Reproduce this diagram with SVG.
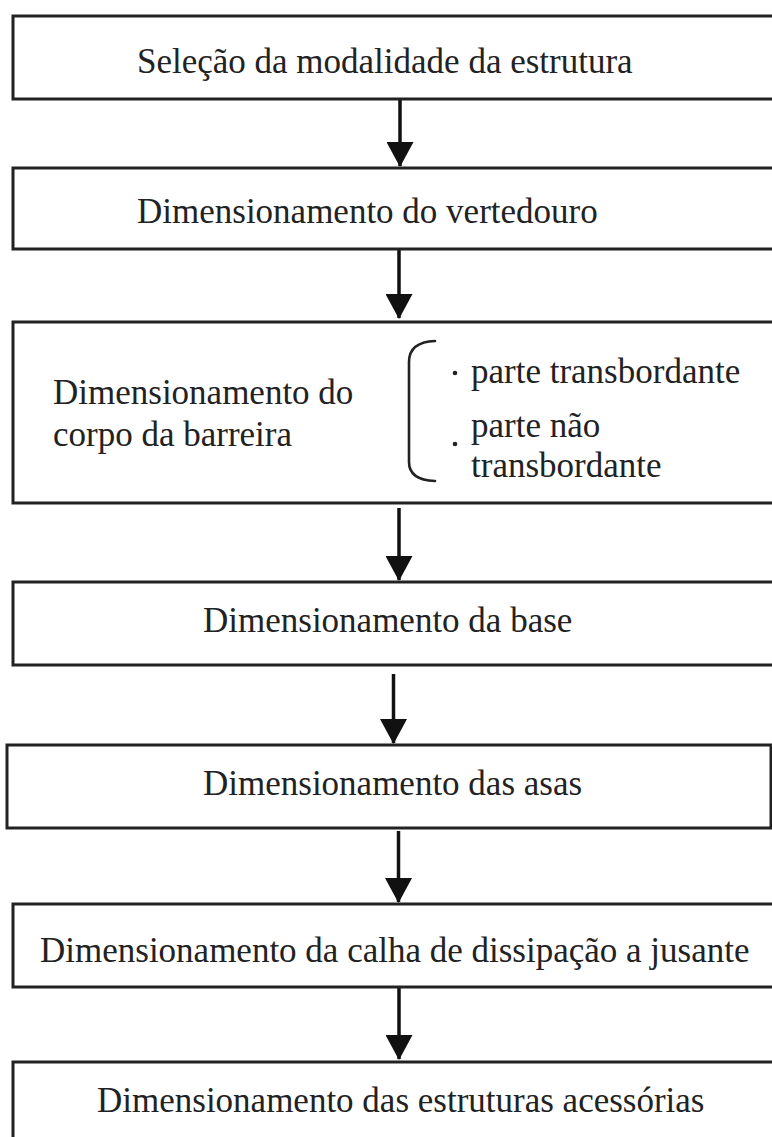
<svg xmlns="http://www.w3.org/2000/svg" width="772" height="1137" viewBox="0 0 772 1137">
  <style>
    .box { fill: #ffffff; stroke: #222222; stroke-width: 3; }
    .lbl { font-family: "Liberation Serif", "Times New Roman", serif; font-size: 35px; fill: #222222; }
    .conn { stroke: #111111; stroke-width: 3.5; fill: none; }
    .brace { stroke: #222222; stroke-width: 2.6; fill: none; stroke-linecap: round; }
    .dot { fill: #222222; }
  </style>
  <defs>
    <marker id="arrow" markerUnits="userSpaceOnUse" markerWidth="25" markerHeight="27" viewBox="0 0 25 27" refX="24" refY="13.5" orient="auto">
      <path d="M0,0 L25,13.5 L0,27 Z" fill="#111111"/>
    </marker>
  </defs>
  <rect width="772" height="1137" fill="#ffffff"/>

  <g id="connectors">
    <line class="conn" x1="400" y1="100" x2="400" y2="166" marker-end="url(#arrow)"/>
    <line class="conn" x1="399" y1="250" x2="399" y2="318" marker-end="url(#arrow)"/>
    <line class="conn" x1="399" y1="508" x2="399" y2="580" marker-end="url(#arrow)"/>
    <line class="conn" x1="393.5" y1="674" x2="393.5" y2="743" marker-end="url(#arrow)"/>
    <line class="conn" x1="398.5" y1="831" x2="398.5" y2="902" marker-end="url(#arrow)"/>
    <line class="conn" x1="399" y1="988" x2="399" y2="1059" marker-end="url(#arrow)"/>
  </g>

  <g id="node1">
    <rect class="box" x="13" y="16" width="775" height="83"/>
    <text class="lbl" x="137" y="73">Seleção da modalidade da estrutura</text>
  </g>
  <g id="node2">
    <rect class="box" x="13" y="168" width="775" height="81"/>
    <text class="lbl" x="137" y="223">Dimensionamento do vertedouro</text>
  </g>
  <g id="node3">
    <rect class="box" x="13" y="322" width="775" height="181"/>
    <text class="lbl" x="53" y="404">Dimensionamento do</text>
    <text class="lbl" x="53" y="446">corpo da barreira</text>
    <path class="brace" d="M435,341 Q409,342 409,362 L409,462 Q409,480 435,481"/>
    <circle class="dot" cx="455" cy="373" r="2.3"/>
    <text class="lbl" x="471" y="383">parte transbordante</text>
    <circle class="dot" cx="455" cy="444" r="2.3"/>
    <text class="lbl" x="471" y="437">parte não</text>
    <text class="lbl" x="471" y="477">transbordante</text>
  </g>
  <g id="node4">
    <rect class="box" x="13" y="582" width="775" height="83"/>
    <text class="lbl" x="203" y="632">Dimensionamento da base</text>
  </g>
  <g id="node5">
    <rect class="box" x="7" y="745" width="764" height="83"/>
    <text class="lbl" x="203" y="795">Dimensionamento das asas</text>
  </g>
  <g id="node6">
    <rect class="box" x="13" y="904" width="775" height="83"/>
    <text class="lbl" x="40" y="962">Dimensionamento da calha de dissipação a jusante</text>
  </g>
  <g id="node7">
    <rect class="box" x="13" y="1062" width="775" height="90"/>
    <text class="lbl" x="97" y="1112">Dimensionamento das estruturas acessórias</text>
  </g>
</svg>
